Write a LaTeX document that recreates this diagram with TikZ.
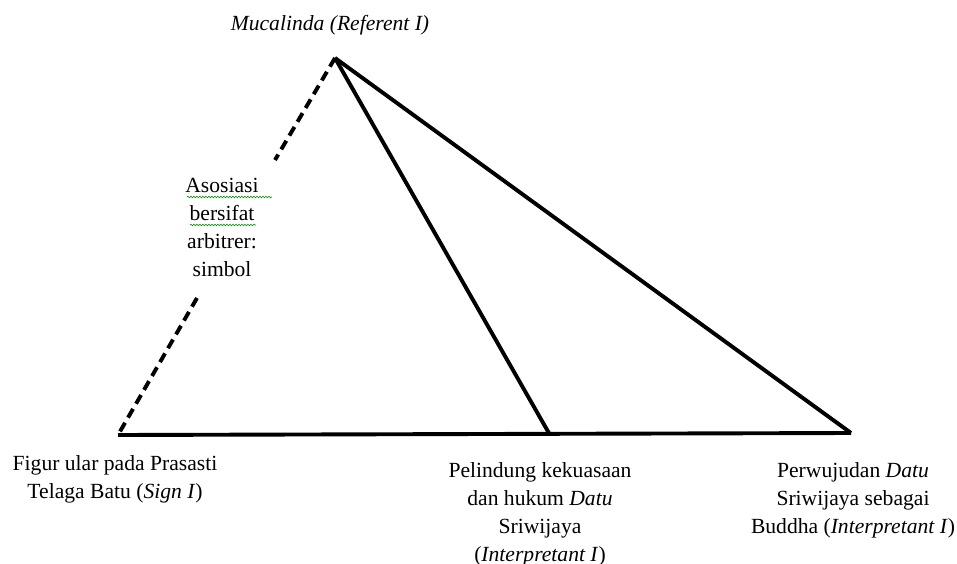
\documentclass[tikz,border=0pt]{standalone}
\usepackage{fontspec}
\setmainfont{Liberation Serif}
\usetikzlibrary{decorations.pathmorphing}
\begin{document}
\begin{tikzpicture}[x=1pt,y=-1pt,
  edge/.style={line width=3.9pt,line join=miter},
  dashedge/.style={line width=3.9pt,dash pattern=on 10pt off 6pt},
  lbl/.style={font=\fontsize{21.6}{28}\selectfont,align=center,inner sep=0pt,anchor=north},
  spell/.style={draw=green!60!black,line width=0.6pt,decorate,decoration={snake,amplitude=0.8pt,segment length=3pt}}]
\useasboundingbox (0,0) rectangle (957,564);
% vertices
\coordinate (R) at (335,58);
\coordinate (S) at (118,435);
\coordinate (M) at (550,435);
\coordinate (P) at (851,433);
\coordinate (gapTop) at (275,160);
\coordinate (gapBot) at (197,298);
% edges
\draw[edge] (S) -- (P);
\draw[edge] (R) -- (M);
\draw[edge] (R) -- (P);
\draw[dashedge] (R) -- (gapTop);
\draw[dashedge] (gapBot) -- (S);
% labels
\node[lbl] (ref) at (330,15) {\textit{Mucalinda (Referent I)}};
\node[lbl] (assoc) at (222,178) {Asosiasi\\bersifat\\arbitrer:\\simbol};
\node[lbl] (sign) at (115,455) {Figur ular pada Prasasti\\Telaga Batu (\textit{Sign I})};
\node[lbl] (int1) at (540,462) {Pelindung kekuasaan\\dan hukum \textit{Datu}\\Sriwijaya\\(\textit{Interpretant I})};
\node[lbl] (int2) at (853,462) {Perwujudan \textit{Datu}\\Sriwijaya sebagai\\Buddha (\textit{Interpretant I})};
% spell-check underlines
\draw[spell] (187,197) -- (272,197);
\draw[spell] (190,225) -- (256,225);
\end{tikzpicture}
\end{document}
